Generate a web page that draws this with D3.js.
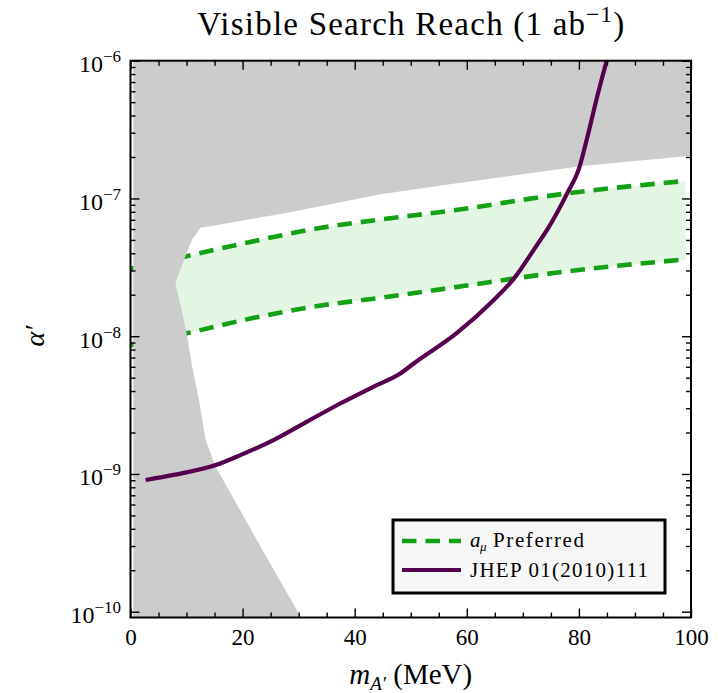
<!DOCTYPE html>
<html>
<head>
<meta charset="utf-8">
<script src="https://cdn.jsdelivr.net/npm/d3@7"></script>
<style>
  html, body { margin: 0; padding: 0; background: #fff; }
  svg { display: block; }
  text { font-family: "Liberation Serif", "Times New Roman", serif; fill: #000; }
</style>
</head>
<body>
<svg id="chart" width="719" height="693"></svg>
<script>
// ---- data -------------------------------------------------------------
// dark photon mass grid (MeV) and the g-2 preferred band edges (alpha')
const bandMass  = [0, 10, 22, 34, 44.6, 57, 78, 99];
const bandUpper = [3.09e-8, 3.81e-8, 4.90e-8, 6.12e-8, 7.03e-8, 8.13e-8, 1.09e-7, 1.34e-7];
const bandLower = [8.61e-9, 1.05e-8, 1.36e-8, 1.67e-8, 1.90e-8, 2.24e-8, 2.96e-8, 3.61e-8];

// boundary of the region still open to the visible search
const openTopMass   = [12.5, 16, 28, 44.6, 57, 81, 100];
const openTopAlpha  = [6.12e-8, 6.47e-8, 7.87e-8, 1.074e-7, 1.27e-7, 1.73e-7, 2.04e-7];
const openLeftMass  = [12.5, 11.0, 9.8, 8.0, 9.5, 10.1, 11.0, 12.2, 13.4, 15.2, 23.8, 30.5];
const openLeftAlpha = [6.12e-8, 5.04e-8, 3.81e-8, 2.44e-8, 1.32e-8, 1.0e-8, 6.05e-9, 3.47e-9, 1.77e-9, 1.13e-9, 2.69e-10, 9.0e-11];

// reach curve from JHEP 01(2010)111
const jhepMass  = [2.7, 7.7, 15.2, 19.6, 25.6, 31.5, 37.5, 43.4, 48.2, 50.6, 58.3, 64.3, 68.5, 72, 74.4, 78, 80, 81.5, 83.3, 85.1];
const jhepAlpha = [9.04e-10, 9.84e-10, 1.16e-9, 1.37e-9, 1.77e-9, 2.40e-9, 3.26e-9, 4.31e-9, 5.38e-9, 6.37e-9, 1.06e-8, 1.75e-8, 2.65e-8, 4.27e-8, 5.98e-8, 1.107e-7, 1.64e-7, 2.78e-7, 5.57e-7, 1.05e-6];

// axis ticks
const xMajor = [0, 20, 40, 60, 80, 100];
const xMinor = [5, 10, 15, 25, 30, 35, 45, 50, 55, 65, 70, 75, 85, 90, 95];
const yExponents = [-10, -9, -8, -7, -6];
const legendLabels = ["Preferred", "JHEP 01(2010)111"];

// ---- layout -----------------------------------------------------------
const L = 130.5, R = 691, T = 60.7, B = 617.5;
const massMin = 0, massMax = 100;
const alphaMin = Math.pow(10, -10.042), alphaMax = 1e-6;
const massFloor = 0.5; // excluded shading starts here

const GREEN = "#14a014", BANDFILL = "#e3f5e3", GRAY = "#cccccc", PURPLE = "#57004f";
const DASH = "14.5,9";

const svg = d3.select("#chart");
const x = d3.scaleLinear().domain([massMin, massMax]).range([L, R]);
const y = d3.scaleLog().domain([alphaMin, alphaMax]).range([B, T]);

svg.append("defs").append("clipPath").attr("id", "plotClip")
  .append("rect").attr("x", L).attr("y", T).attr("width", R - L).attr("height", B - T);

const plot = svg.append("g").attr("clip-path", "url(#plotClip)");

// preferred band fill and its dashed edges
const band = bandMass.map((m, i) => ({ m, lo: bandLower[i], hi: bandUpper[i] }));
plot.append("path")
  .datum(band)
  .attr("fill", BANDFILL)
  .attr("d", d3.area().curve(d3.curveMonotoneX)
    .x(d => x(d.m)).y0(d => y(d.lo)).y1(d => y(d.hi)));

const edge = d3.line().curve(d3.curveMonotoneX).x(d => x(d[0])).y(d => y(d[1]));
[bandUpper, bandLower].forEach(arr => {
  plot.append("path")
    .datum(bandMass.map((m, i) => [m, arr[i]]))
    .attr("fill", "none")
    .attr("stroke", GREEN)
    .attr("stroke-width", 4.6)
    .attr("stroke-dasharray", DASH)
    .attr("d", edge);
});

// excluded region: everything in the frame outside the open region
const openPoly = openTopMass.map((m, i) => [m, openTopAlpha[i]])
  .concat([[massMax, alphaMin * 0.99]])
  .concat(openLeftMass.slice().reverse().map((m, i) => [m, openLeftAlpha[openLeftAlpha.length - 1 - i]]));
const outer = [[massFloor, alphaMax], [massMax, alphaMax], [massMax, alphaMin * 0.99], [massFloor, alphaMin * 0.99]];
const ring = pts => "M" + pts.map(p => x(p[0]) + "," + y(p[1])).join("L") + "Z";
plot.append("path")
  .attr("fill", GRAY)
  .attr("fill-rule", "evenodd")
  .attr("d", ring(outer) + ring(openPoly));

// JHEP reach curve
plot.append("path")
  .datum(jhepMass.map((m, i) => [m, jhepAlpha[i]]))
  .attr("fill", "none")
  .attr("stroke", PURPLE)
  .attr("stroke-width", 4.2)
  .attr("stroke-linejoin", "round")
  .attr("d", edge);

// ---- axes -------------------------------------------------------------
const MAJ = 9, MIN = 5;
function styleAxis(g) {
  g.select(".domain").remove();
  g.selectAll(".tick line").attr("stroke", "#000").attr("stroke-width", 1.4);
}
svg.append("g").attr("transform", `translate(0,${B})`)
  .call(d3.axisBottom(x).tickValues(xMinor).tickSize(-MIN).tickFormat(""))
  .call(styleAxis);
svg.append("g").attr("transform", `translate(0,${T})`)
  .call(d3.axisTop(x).tickValues(xMinor).tickSize(-MIN).tickFormat(""))
  .call(styleAxis);
svg.append("g").attr("transform", `translate(0,${T})`)
  .call(d3.axisTop(x).tickValues(xMajor).tickSize(-MAJ).tickFormat(""))
  .call(styleAxis);
const xAxis = svg.append("g").attr("transform", `translate(0,${B})`)
  .call(d3.axisBottom(x).tickValues(xMajor).tickSize(-MAJ).tickFormat(d3.format("d")))
  .call(styleAxis);
xAxis.selectAll(".tick text")
  .attr("y", 27.5).attr("dy", 0)
  .attr("font-size", 23).attr("font-family", "Liberation Serif, serif");

const decades = yExponents.map(e => Math.pow(10, e));
const yMinor = [];
yExponents.slice(0, -1).forEach(e => { for (let k = 2; k <= 9; k++) yMinor.push(k * Math.pow(10, e)); });
svg.append("g").attr("transform", `translate(${L},0)`)
  .call(d3.axisLeft(y).tickValues(yMinor).tickSize(-MIN).tickFormat(""))
  .call(styleAxis);
svg.append("g").attr("transform", `translate(${R},0)`)
  .call(d3.axisRight(y).tickValues(yMinor).tickSize(-MIN).tickFormat(""))
  .call(styleAxis);
svg.append("g").attr("transform", `translate(${R},0)`)
  .call(d3.axisRight(y).tickValues(decades).tickSize(-MAJ).tickFormat(""))
  .call(styleAxis);
const yAxis = svg.append("g").attr("transform", `translate(${L},0)`)
  .call(d3.axisLeft(y).tickValues(decades).tickSize(-MAJ).tickPadding(9.5).tickFormat(() => ""))
  .call(styleAxis);
yAxis.selectAll(".tick text").each(function (d) {
  const t = d3.select(this).attr("dy", 11).attr("font-size", 24).attr("font-family", "Liberation Serif, serif");
  t.append("tspan").text("10");
  t.append("tspan").attr("font-size", 17).attr("dy", -10)
    .text("\u2212" + Math.round(-Math.log10(d)));
});

// frame
svg.append("rect").attr("x", L).attr("y", T).attr("width", R - L).attr("height", B - T)
  .attr("fill", "none").attr("stroke", "#000").attr("stroke-width", 2);

// ---- text -------------------------------------------------------------
const title = svg.append("text").attr("x", (L + R) / 2).attr("y", 35)
  .attr("text-anchor", "middle").attr("font-size", 33)
  .attr("textLength", 427).attr("lengthAdjust", "spacing");
title.append("tspan").text("Visible Search Reach (1 ab");
title.append("tspan").attr("font-size", 23).attr("dy", -13).text("\u22121");
title.append("tspan").attr("dy", 13).text(")");

svg.append("text")
  .attr("transform", "translate(44,336) rotate(-90)")
  .attr("text-anchor", "middle").attr("font-size", 28).attr("font-style", "italic")
  .text("\u03b1\u2032");

const xl = svg.append("text").attr("x", (L + R) / 2).attr("y", 684)
  .attr("text-anchor", "middle").attr("font-size", 29);
xl.append("tspan").attr("font-style", "italic").text("m");
xl.append("tspan").attr("font-style", "italic").attr("font-size", 19).attr("dy", 6).text("A\u2032");
xl.append("tspan").attr("dy", -6).text(" (MeV)");

// ---- legend -----------------------------------------------------------
const lg = svg.append("g");
lg.append("rect").attr("x", 393).attr("y", 520).attr("width", 272).attr("height", 73)
  .attr("fill", "#f7f7f7").attr("stroke", "#000").attr("stroke-width", 3);
lg.append("line").attr("x1", 402).attr("x2", 461).attr("y1", 541).attr("y2", 541)
  .attr("stroke", GREEN).attr("stroke-width", 4.6).attr("stroke-dasharray", DASH);
lg.append("line").attr("x1", 402).attr("x2", 461).attr("y1", 570).attr("y2", 570)
  .attr("stroke", PURPLE).attr("stroke-width", 4.2);
lg.append("text").attr("x", 470).attr("y", 547).attr("font-size", 21).attr("font-style", "italic").text("a");
lg.append("text").attr("x", 480).attr("y", 551).attr("font-size", 13).attr("font-style", "italic").text("\u03bc");
lg.append("text").attr("x", 493).attr("y", 547).attr("font-size", 21)
  .attr("textLength", 91).attr("lengthAdjust", "spacing").text(legendLabels[0]);
lg.append("text").attr("x", 470).attr("y", 577).attr("font-size", 21)
  .attr("textLength", 178).attr("lengthAdjust", "spacing").text(legendLabels[1]);
</script>
</body>
</html>
